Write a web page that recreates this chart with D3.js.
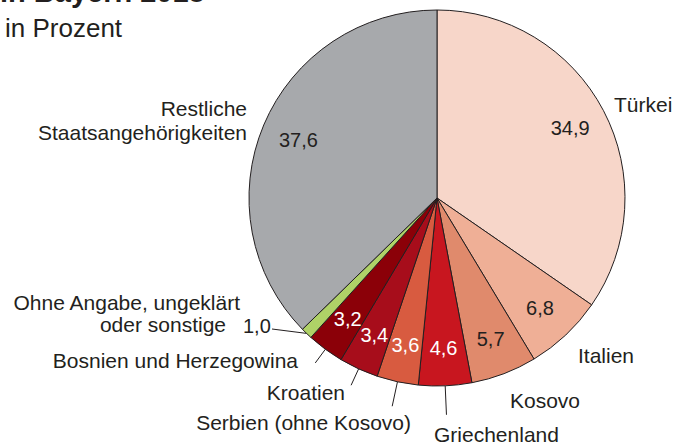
<!DOCTYPE html>
<html>
<head>
<meta charset="utf-8">
<script src="https://cdn.jsdelivr.net/npm/d3@7"></script>
<style>
  body { margin: 0; background: #fff; }
  svg { display: block; font-family: "Liberation Sans", Arial, Helvetica, sans-serif; }
</style>
</head>
<body>
<svg id="chart" width="676" height="446"></svg>
<script>
// Data: share of foreign population by nationality, in percent
const countries = ["Türkei", "Italien", "Kosovo", "Griechenland", "Serbien (ohne Kosovo)",
  "Kroatien", "Bosnien und Herzegowina", "Ohne Angabe, ungeklärt oder sonstige",
  "Restliche Staatsangehörigkeiten"];
const shares = [34.9, 6.8, 5.7, 4.6, 3.6, 3.4, 3.2, 1.0, 37.6];
const colors = ["#f7d6c9", "#efaf96", "#e08a6c", "#c8161f", "#d85b40",
  "#a70d1b", "#8b0008", "#afd267", "#a7a9ac"];
const whiteText = [false, false, false, true, true, true, true, false, false];

const width = 676, height = 446;
const cx = 437, cy = 198, radius = 188;
const ink = "#231f20";
const labelSize = 21;

const svg = d3.select("#chart");

// Title (partly cut off at the top)
svg.append("text")
    .attr("x", 0).attr("y", 2)
    .attr("font-size", 29).attr("font-weight", "bold").attr("fill", ink)
    .text("in Bayern 2018");
svg.append("text")
    .attr("x", 5).attr("y", 37)
    .attr("font-size", 26).attr("fill", ink)
    .text("in Prozent");

const data = countries.map((c, i) => ({ name: c, value: shares[i], color: colors[i], white: whiteText[i] }));

const pie = d3.pie().sort(null).value(d => d.value);
const arcs = pie(data);

const arc = d3.arc().innerRadius(0).outerRadius(radius);
const labelArc = d3.arc().innerRadius(radius * 0.8).outerRadius(radius * 0.8);

const g = svg.append("g").attr("transform", `translate(${cx},${cy})`);

g.selectAll("path.slice")
    .data(arcs)
    .enter()
    .append("path")
    .attr("class", "slice")
    .attr("d", arc)
    .attr("fill", d => d.data.color)
    .attr("stroke", ink)
    .attr("stroke-width", 1)
    .attr("stroke-linejoin", "round");

const fmt = v => d3.format(".1f")(v).replace(".", ",");

// Value labels inside the slices (the 1,0 one sits outside)
g.selectAll("text.value")
    .data(arcs.filter(d => d.data.value > 1.5))
    .enter()
    .append("text")
    .attr("class", "value")
    .attr("x", d => labelArc.centroid(d)[0])
    .attr("y", d => labelArc.centroid(d)[1] + 7)
    .attr("text-anchor", "middle")
    .attr("font-size", 20)
    .attr("fill", d => d.data.white ? "#fff" : ink)
    .text(d => fmt(d.data.value));

// Radial leader lines for the small slices, length beyond the rim
const leaderLength = { "Griechenland": 29, "Serbien (ohne Kosovo)": 25,
  "Kroatien": 18, "Bosnien und Herzegowina": 17 };
const mid = d => (d.startAngle + d.endAngle) / 2;

g.selectAll("line.leader")
    .data(arcs.filter(d => leaderLength[d.data.name]))
    .enter()
    .append("line")
    .attr("class", "leader")
    .attr("x1", d => Math.sin(mid(d)) * radius)
    .attr("y1", d => -Math.cos(mid(d)) * radius)
    .attr("x2", d => Math.sin(mid(d)) * (radius + leaderLength[d.data.name]))
    .attr("y2", d => -Math.cos(mid(d)) * (radius + leaderLength[d.data.name]))
    .attr("stroke", ink)
    .attr("stroke-width", 1);

// "Ohne Angabe" leader goes out to the left towards its value
const other = arcs[7];
g.append("line")
    .attr("x1", Math.sin(mid(other)) * radius)
    .attr("y1", -Math.cos(mid(other)) * radius)
    .attr("x2", 272 - cx)
    .attr("y2", 329 - cy)
    .attr("stroke", ink)
    .attr("stroke-width", 1);

// Outer category labels
const outerLabels = [
  { lines: ["Türkei"], x: [614], y: [112], anchor: "start" },
  { lines: ["Italien"], x: [578], y: [363], anchor: "start" },
  { lines: ["Kosovo"], x: [510], y: [408], anchor: "start" },
  { lines: ["Griechenland"], x: [434], y: [442], anchor: "start" },
  { lines: ["Serbien (ohne Kosovo)"], x: [411], y: [430], anchor: "end" },
  { lines: ["Kroatien"], x: [345], y: [400], anchor: "end" },
  { lines: ["Bosnien und Herzegowina"], x: [298], y: [368], anchor: "end" },
  { lines: ["Ohne Angabe, ungeklärt", "oder sonstige"], x: [240, 226], y: [310, 332], anchor: "end" },
  { lines: ["Restliche", "Staatsangehörigkeiten"], x: [247, 247], y: [116, 140], anchor: "end" }
];

outerLabels.forEach(l => {
  l.lines.forEach((t, i) => {
    svg.append("text")
        .attr("x", l.x[i])
        .attr("y", l.y[i])
        .attr("text-anchor", l.anchor)
        .attr("font-size", labelSize)
        .attr("fill", ink)
        .text(t);
  });
});

svg.append("text")
    .attr("x", 243).attr("y", 333)
    .attr("font-size", 20).attr("fill", ink)
    .text(fmt(shares[7]));
</script>
</body>
</html>
